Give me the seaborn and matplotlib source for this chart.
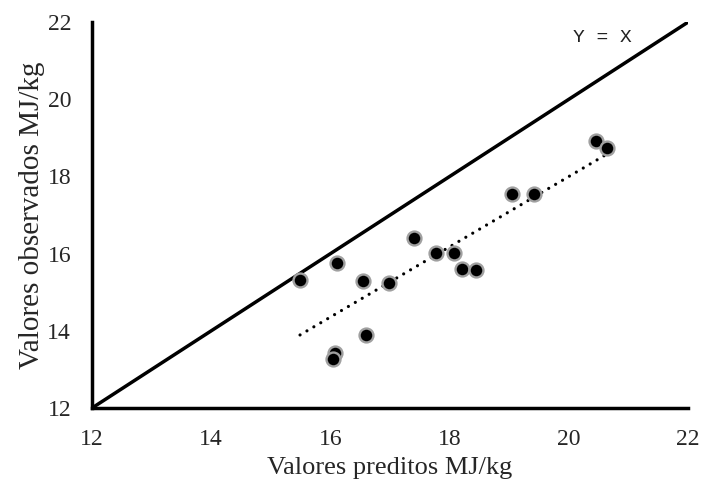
import matplotlib
matplotlib.use("Agg")
import matplotlib.pyplot as plt
import seaborn as sns
import pandas as pd

predicted = [15.49, 16.11, 16.54, 16.98, 17.41, 17.77, 18.08, 18.20, 18.44,
             16.59, 16.07, 16.05, 19.05, 19.42, 20.46, 20.64]
observed = [15.33, 15.75, 15.28, 15.25, 16.40, 16.01, 16.02, 15.60, 15.58,
            13.90, 13.43, 13.26, 17.55, 17.55, 18.92, 18.74]
ticks = [12, 14, 16, 18, 20, 22]
identity = [12, 22]

df = pd.DataFrame({"pred": predicted, "obs": observed})

sns.set_style("white")
plt.rcParams["font.family"] = ["Liberation Serif", "DejaVu Serif"]

fig = plt.figure(figsize=(7.05, 4.91), dpi=100)
ax = fig.add_axes([0.1305, 0.169, 0.8455, 0.786])

sns.lineplot(x=identity, y=identity, ax=ax, color="black", linewidth=2.5)
sns.regplot(data=df, x="pred", y="obs", ax=ax, ci=None, scatter=False,
            line_kws=dict(color="black", linestyle=(0, (0.01, 2.5)),
                          linewidth=2.3, dash_capstyle="round"))
sns.scatterplot(data=df, x="pred", y="obs", ax=ax, s=100, color="black",
                edgecolor="#a0a0a0", linewidth=1.7, zorder=5)

ax.set_xlim(12, 22)
ax.set_ylim(12, 22)
ax.set_xticks(ticks)
ax.set_yticks(ticks)
ax.tick_params(axis="both", length=0, labelsize=17)
ax.tick_params(axis="x", pad=15)
ax.tick_params(axis="y", pad=15)
ax.set_xlabel("Valores preditos MJ/kg", fontsize=19, labelpad=5)
ax.set_ylabel("Valores observados MJ/kg", fontsize=21, labelpad=2)
for side in ["top", "right"]:
    ax.spines[side].set_visible(False)
for side in ["left", "bottom"]:
    ax.spines[side].set_color("black")
    ax.spines[side].set_linewidth(2.5)

ax.text(20.56, 21.6, "Y = X", family=["Liberation Mono", "DejaVu Sans Mono"],
        fontsize=14, color="#222222", ha="center", va="center")

fig.savefig("out.png", dpi=100)
